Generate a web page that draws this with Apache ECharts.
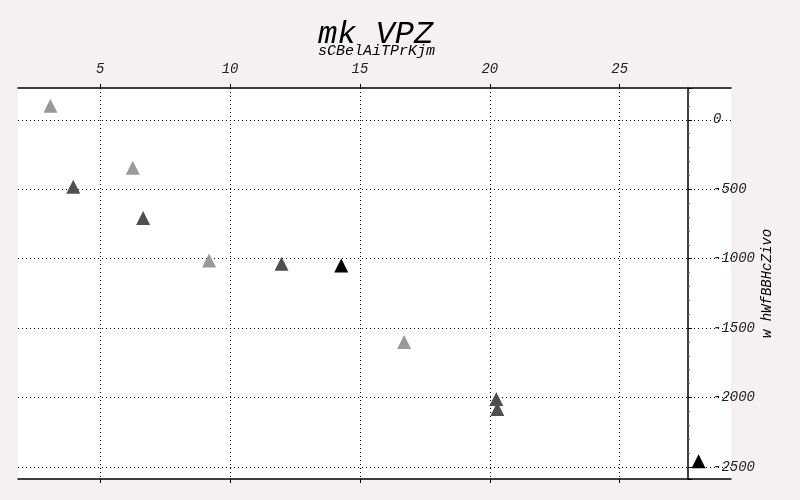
<!DOCTYPE html>
<html>
<head>
<meta charset="utf-8">
<script src="https://cdn.jsdelivr.net/npm/echarts@6/dist/echarts.min.js"></script>
<style>html,body{margin:0;padding:0;background:#f5f1f1;}#c{width:800px;height:500px;}</style>
</head>
<body>
<div id="c"></div>
<script>
// Data
const lightX = [3.08, 6.25, 9.19, 16.70];
const lightY = [101, -346, -1013, -1601];
const darkX = [3.96, 6.65, 11.98, 20.25, 20.29];
const darkY = [-483, -707, -1036, -2011, -2083];
const blackX = [14.28, 28.04];
const blackY = [-1049, -2459];
const xTicks = [5, 10, 15, 20, 25];
const titleText = 'mk VPZ';
const subText = 'sCBelAiTPrKjm';
const yName = 'w hWfBBHcZivo';

const FONT = 'Liberation Mono';
const pair = (xs, ys) => xs.map((x, i) => [x, ys[i]]);
const allX = lightX.concat(darkX, blackX);
const allY = lightY.concat(darkY, blackY);
const pad = (arr) => {
  const lo = Math.min(...arr), hi = Math.max(...arr), r = hi - lo;
  return [lo - r * 0.05, hi + r * 0.05];
};
const [xMin, xMax] = pad(allX);
const [yMin, yMax] = pad(allY);

const labelStyle = { fontFamily: FONT, fontStyle: 'italic', fontSize: 14, color: '#222' };
const dotted = { type: [1, 3], color: '#000', width: 1 };

const chart = echarts.init(document.getElementById('c'));
chart.setOption({
  backgroundColor: '#f5f1f1',
  animation: false,
  title: {
    text: titleText, subtext: subText, left: 313, top: 14, itemGap: -7,
    textStyle: { fontFamily: FONT, fontStyle: 'italic', fontWeight: 'normal', fontSize: 32, color: '#000' },
    subtextStyle: { fontFamily: FONT, fontStyle: 'italic', fontSize: 15, color: '#000' }
  },
  grid: { left: 18, right: 69, top: 88, bottom: 21, show: true, backgroundColor: '#fff', borderWidth: 0 },
  xAxis: [{
    type: 'value', position: 'top', min: xMin, max: xMax,
    axisLine: { show: true, onZero: false, lineStyle: { color: '#000', width: 1.5 } },
    axisTick: { show: true, length: 4, lineStyle: { color: '#000' } },
    axisLabel: Object.assign({ showMinLabel: false, showMaxLabel: false, margin: 12 }, labelStyle),
    splitLine: { show: true, showMinLine: false, showMaxLine: false, lineStyle: dotted }
  }, {
    type: 'value', position: 'bottom', min: xMin, max: xMax,
    axisLine: { show: true, onZero: false, lineStyle: { color: '#000', width: 1.5 } },
    axisTick: { show: true, length: 4, customValues: xTicks, lineStyle: { color: '#000' } },
    axisLabel: { show: false },
    splitLine: { show: false }
  }],
  yAxis: {
    type: 'value', position: 'right', offset: -43, min: yMin, max: yMax,
    name: yName, nameLocation: 'middle', nameGap: 72, nameRotate: 90, nameMoveOverlap: false,
    nameTextStyle: { fontFamily: FONT, fontStyle: 'italic', fontSize: 14, color: '#000' },
    axisLine: { show: true, onZero: false, lineStyle: { color: '#000', width: 1.5 } },
    axisTick: { show: true, length: 4, lineStyle: { color: '#000' } },
    minorTick: { show: true, splitNumber: 5, length: 2, lineStyle: { color: '#666' } },
    axisLabel: Object.assign({ showMinLabel: false, showMaxLabel: false, margin: 25, formatter: (v) => String(v) }, labelStyle),
    splitLine: { show: true, showMinLine: false, showMaxLine: false, lineStyle: dotted }
  },
  series: [
    { type: 'scatter', xAxisIndex: 0, symbol: 'triangle', symbolSize: 14, itemStyle: { color: '#999999', opacity: 1 }, data: pair(lightX, lightY) },
    { type: 'scatter', xAxisIndex: 0, symbol: 'triangle', symbolSize: 14, itemStyle: { color: '#4f4f4f', opacity: 1 }, data: pair(darkX, darkY) },
    { type: 'scatter', xAxisIndex: 0, symbol: 'triangle', symbolSize: 14, itemStyle: { color: '#000000', opacity: 1 }, data: pair(blackX, blackY) }
  ]
});
</script>
</body>
</html>
